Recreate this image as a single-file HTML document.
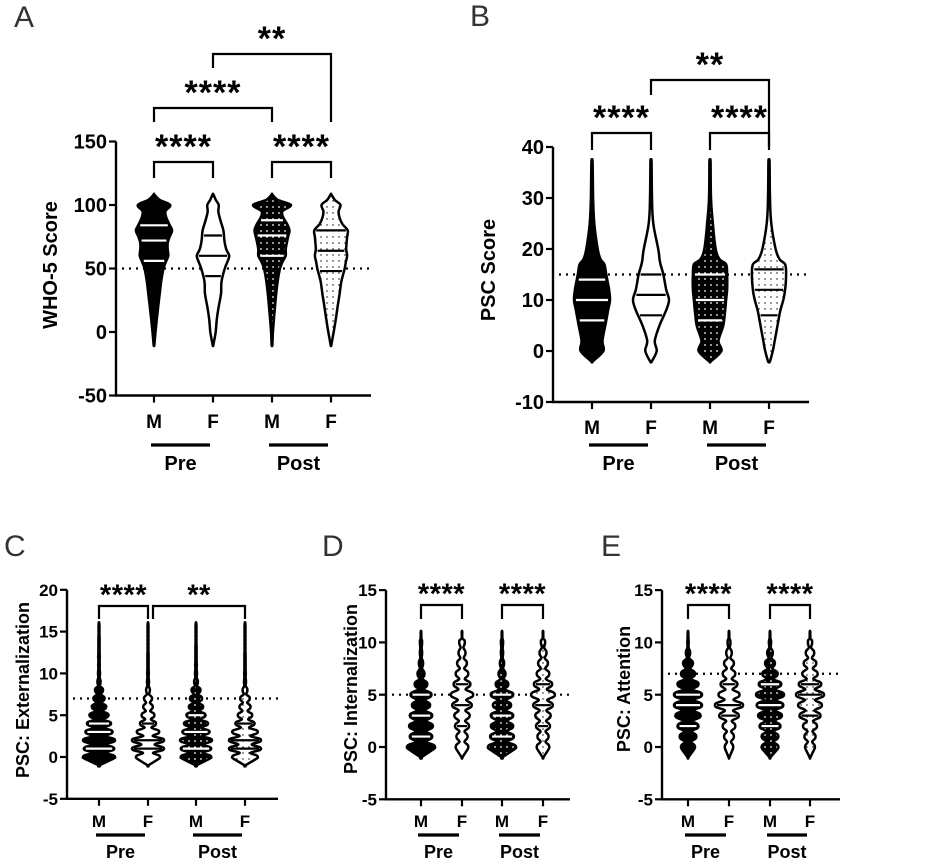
<!DOCTYPE html>
<html><head><meta charset="utf-8">
<style>
html,body{margin:0;padding:0;background:#fff;}
svg{display:block;font-family:"Liberation Sans",Arial,sans-serif;}
</style></head>
<body>
<svg id="fig" width="944" height="861" viewBox="0 0 944 861" xmlns="http://www.w3.org/2000/svg">
<defs>
<pattern id="pwdot" width="6" height="6" patternUnits="userSpaceOnUse"><rect width="6" height="6" fill="#000"/><circle cx="3" cy="3" r="0.9" fill="#fff"/></pattern>
<pattern id="pbdot" width="6" height="6" patternUnits="userSpaceOnUse"><rect width="6" height="6" fill="#fff"/><circle cx="3" cy="3" r="0.7" fill="#000"/></pattern>
</defs>
<g id="root"></g>
</svg>
<script>
// ---------- data ----------
const groupLabels = ["M","F","M","F"];
const phaseLabels = ["Pre","Post"];
// Panel A (WHO-5): sample values and relative widths per violin
const aValues = [-10,0,10,20,30,40,50,55,60,65,70,75,80,85,90,95,100,104,108];
const aWidths = [
 [0.02,0.08,0.15,0.22,0.3,0.38,0.5,0.62,0.75,0.72,0.72,0.82,0.95,0.8,0.65,0.6,0.85,0.3,0.03],
 [0.02,0.14,0.2,0.3,0.42,0.45,0.62,0.75,0.85,0.7,0.62,0.58,0.55,0.45,0.35,0.28,0.3,0.15,0.03],
 [0.02,0.05,0.1,0.16,0.22,0.3,0.42,0.55,0.72,0.72,0.78,0.85,0.92,0.8,0.6,0.55,1.0,0.3,0.03],
 [0.02,0.14,0.25,0.35,0.45,0.55,0.72,0.78,0.85,0.8,0.82,0.85,0.88,0.6,0.45,0.4,0.5,0.2,0.03]
];
const aQuartiles = [[56,72,84],[44,60,76],[60,76,88],[48,64,80]];
// Panel B (PSC total)
const bValues = [-2,0,2,5,8,10,12,15,17,18,20,25,30,37];
const bWidths = [
 [0.05,0.6,0.55,0.7,0.85,0.95,0.9,0.75,0.65,0.45,0.3,0.12,0.06,0.03],
 [0.05,0.3,0.2,0.45,0.8,0.95,0.8,0.65,0.5,0.45,0.38,0.12,0.05,0.03],
 [0.05,0.6,0.45,0.7,0.8,0.85,0.9,0.9,0.85,0.5,0.3,0.15,0.05,0.03],
 [0.05,0.2,0.3,0.45,0.6,0.75,0.85,0.9,0.85,0.55,0.35,0.12,0.05,0.03]
];
const bQuartiles = [[6,10,14],[7,11,15],[6,10,15],[7,12,16]];
// Panel C (Externalization) widths at integer scores 0..15
const cWidths = [
 [1,0.95,1,0.85,0.75,0.6,0.45,0.35,0.25,0.1,0.06,0.05,0.05,0.04,0.04,0.03],
 [0.75,1,1,0.7,0.5,0.4,0.3,0.25,0.12,0.06,0.05,0.04,0.04,0.03,0.03,0.03],
 [0.95,0.95,1,0.85,0.75,0.6,0.45,0.38,0.28,0.12,0.06,0.05,0.04,0.04,0.03,0.03],
 [0.8,1,1,0.8,0.6,0.45,0.35,0.3,0.15,0.06,0.05,0.04,0.04,0.03,0.03,0.03]
];
const cQuartiles = [[1,3,4],[1,2,4],[1,3,5],[1,2,4]];
// Panel D (Internalization) widths at integer scores 0..10
const dWidths = [
 [1,0.8,0.85,0.8,0.65,0.75,0.45,0.25,0.15,0.08,0.08],
 [0.45,0.4,0.5,0.55,0.7,0.8,0.6,0.45,0.35,0.25,0.2],
 [1,0.85,0.8,0.8,0.65,0.8,0.45,0.25,0.15,0.08,0.08],
 [0.45,0.4,0.5,0.55,0.7,0.85,0.65,0.45,0.35,0.25,0.15]
];
const dQuartiles = [[1,3,5],[2,4,6],[1,3,5],[2,4,6]];
// Panel E (Attention) widths at integer scores 0..10
const eWidths = [
 [0.5,0.6,0.75,0.9,1,1,0.75,0.5,0.35,0.15,0.05],
 [0.3,0.35,0.45,0.7,1,0.75,0.6,0.45,0.35,0.2,0.1],
 [0.6,0.6,0.75,0.85,0.95,1,0.8,0.55,0.35,0.2,0.08],
 [0.35,0.4,0.5,0.75,0.85,1,0.8,0.55,0.45,0.3,0.15]
];
const eQuartiles = [[2,4,5],[3,4,6],[2,4,6],[3,5,6]];
const aTicks = [-50,0,50,100,150];
const bTicks = [-10,0,10,20,30,40];
const cTicks = [-5,0,5,10,15,20];
const deTicks = [-5,0,5,10,15];

// ---------- drawing ----------
const NS = "http://www.w3.org/2000/svg";
const root = document.getElementById("root");
function mk(tag, attrs, parent){
  const e = document.createElementNS(NS, tag);
  for (const k in attrs) e.setAttribute(k, attrs[k]);
  (parent||root).appendChild(e);
  return e;
}
const fills = ["#000","#fff","url(#pwdot)","url(#pbdot)"];
const qcol = ["#fff","#000","#fff","#000"];

function smoothPath(pts){
  let d = "M"+pts[0][0].toFixed(1)+","+pts[0][1].toFixed(1);
  for (let i=0;i<pts.length-1;i++){
    const p0=pts[Math.max(0,i-1)],p1=pts[i],p2=pts[i+1],p3=pts[Math.min(pts.length-1,i+2)];
    const c1=[p1[0]+(p2[0]-p0[0])/6,p1[1]+(p2[1]-p0[1])/6];
    const c2=[p2[0]-(p3[0]-p1[0])/6,p2[1]-(p3[1]-p1[1])/6];
    d+="C"+c1[0].toFixed(1)+","+c1[1].toFixed(1)+" "+c2[0].toFixed(1)+","+c2[1].toFixed(1)+" "+p2[0].toFixed(1)+","+p2[1].toFixed(1);
  }
  return d;
}
function integerSamples(ws){
  const s=[[-1,0.02]];
  for (let k=0;k<ws.length;k++){
    if (k>0){ s.push([k-0.5, Math.min(ws[k-1],ws[k])*0.4+0.02]); }
    s.push([k-0.2, ws[k]*0.9]);
    s.push([k, ws[k]]);
    s.push([k+0.2, ws[k]*0.9]);
  }
  s.push([ws.length-1+0.4, 0.03]);
  s.push([ws.length, 0.02]);
  return s;
}

function panel(P){
  const g = mk("g",{});
  const Y = v => P.y0 - v*P.k;
  const L = mk("text",{x:P.letter[0],y:P.letter[1],"font-size":P.lfs,"fill":"#333"},g);
  L.textContent = P.lt;
  
  
  const yb = Y(P.ticks[0]), yt = Y(P.ticks[P.ticks.length-1]);
  const ax = mk("line",{x1:P.ax,y1:yt,x2:P.ax,y2:yb+1,stroke:"#000","stroke-width":2.4},g);
  
  
  const xa = mk("line",{x1:P.ax-1,y1:yb,x2:P.axEnd,y2:yb,stroke:"#000","stroke-width":2.4},g);
  
  
  P.ticks.forEach(t=>{
    mk("line",{x1:P.ax-7,y1:Y(t),x2:P.ax,y2:Y(t),stroke:"#000","stroke-width":2.2},g);
    const tx = mk("text",{x:P.ax-9,y:Y(t)+P.tfs*0.36,"font-size":P.tfs,"font-weight":"bold","text-anchor":"end"},g);
    tx.textContent = t;
    
    
  });
  const yl = mk("text",{x:0,y:0,"font-size":P.yfs,"font-weight":"bold","text-anchor":"middle",transform:"translate("+P.ytitle[0]+","+P.ytitle[1]+") rotate(-90)"},g);
  yl.textContent = P.ytxt;
  
  
  const ref = mk("line",{x1:P.ax+6,y1:Y(P.ref),x2:P.axEnd,y2:Y(P.ref),stroke:"#000","stroke-width":2.2,"stroke-dasharray":"2 5"},g);
  
  
  P.cats.forEach((cx,i)=>{
    const samples = P.samples(i);
    const right = samples.map(s=>[cx+s[1]*P.hw, Y(s[0])]);
    const left = samples.slice().reverse().map(s=>[cx-s[1]*P.hw, Y(s[0])]);
    const top = [cx, Y(samples[samples.length-1][0])-1];
    const bot = [cx, Y(samples[0][0])+1];
    const d = smoothPath([bot].concat(right,[top],left,[bot]))+"Z";
    const vp = mk("path",{d:d,fill:fills[i],stroke:"#000","stroke-width":2.5,"stroke-linejoin":"round"},g);
    
    
    P.quart[i].forEach(q=>{
      let w = 0;
      for (let j=0;j<samples.length-1;j++){const a=samples[j],b=samples[j+1]; if(q>=a[0]&&q<=b[0]){w=a[1]+(b[1]-a[1])*(q-a[0])/(b[0]-a[0]);break;}}
      const ql = mk("line",{x1:cx-w*P.hw+2,y1:Y(q),x2:cx+w*P.hw-2,y2:Y(q),stroke:qcol[i],"stroke-width":2.2},g);
      
      
    });
    mk("line",{x1:cx,y1:yb,x2:cx,y2:yb+7,stroke:"#000","stroke-width":2.2},g);
    const cl = mk("text",{x:cx,y:P.catY,"font-size":P.cfs,"font-weight":"bold","text-anchor":"middle"},g);
    cl.textContent = groupLabels[i];
    
    
  });
  [0,1].forEach(j=>{
    const x1=P.cats[2*j]-3, x2=P.cats[2*j+1]-3;
    const ul = mk("line",{x1:x1,y1:P.ulY,x2:x2,y2:P.ulY,stroke:"#000","stroke-width":3.2},g);
    
    
    const pl = mk("text",{x:(x1+x2)/2,y:P.phY,"font-size":P.pfs,"font-weight":"bold","text-anchor":"middle"},g);
    pl.textContent = phaseLabels[j];
    
    
  });
  P.br.forEach(b=>{
    const xA=P.cats[b[0]]+(b[5]||0), xB=P.cats[b[1]];
    const bp = mk("path",{d:"M"+xA+","+b[3]+"V"+b[2]+"H"+xB+"V"+b[4],fill:"none",stroke:"#000","stroke-width":2.2},g);
    
    
    const st = mk("text",{x:(xA+xB)/2,y:b[2]-P.sgap+P.sfs*0.5,"font-size":P.sfs,"font-weight":"bold","text-anchor":"middle","letter-spacing":P.sls},g);
    st.textContent = b[6];
    
    
  });
}

const bigBase = {tfs:20,yfs:20,cfs:19,pfs:20,sfs:34,sls:1,sgap:21,lfs:30,hw:19};
panel(Object.assign({},bigBase,{name:"panel-a-who5",lt:"A",letter:[14,27],y0:332,k:63.5/50,ticks:aTicks,ax:116,axEnd:371,
  cats:[154,213,272,331],ref:50,ytxt:"WHO-5 Score",ytitle:[57,265],catY:428,ulY:445,phY:470,
  samples:i=>aValues.map((v,j)=>[v,aWidths[i][j]]),quart:aQuartiles,
  br:[[0,1,162,178,178,0,"****"],[2,3,162,178,178,0,"****"],[0,2,108,122,122,0,"****"],[1,3,54,68,122,0,"**"]]}));
panel(Object.assign({},bigBase,{name:"panel-b-psc",lt:"B",letter:[470,26],y0:351,k:5.1,ticks:bTicks,ax:553,axEnd:809,
  cats:[592,651,710,769],ref:15,ytxt:"PSC Score",ytitle:[495,270],catY:434,ulY:445,phY:470,
  samples:i=>bValues.map((v,j)=>[v,bWidths[i][j]]),quart:bQuartiles,
  br:[[0,1,133,150,150,0,"****"],[2,3,133,150,150,0,"****"],[1,3,80,95,147,0,"**"]]}));
const smBase = {tfs:17,yfs:18,cfs:17,pfs:18,sfs:29,sls:0.5,sgap:16,lfs:30,catY:827,ulY:835,phY:858};
panel(Object.assign({},smBase,{name:"panel-c-externalization",lt:"C",letter:[4,556],y0:757,k:41.8/5,ticks:cTicks,ax:67,axEnd:278,hw:16,
  cats:[99,148,196,245],ref:7,ytxt:"PSC: Externalization",ytitle:[29,690],
  samples:i=>integerSamples(cWidths[i]),quart:cQuartiles,
  br:[[0,1,606,619,619,0,"****"],[1,3,606,619,619,5,"**"]]}));
panel(Object.assign({},smBase,{name:"panel-d-internalization",lt:"D",letter:[322,556],y0:747,k:52.3/5,ticks:deTicks,ax:386,axEnd:570,hw:14,
  cats:[421,462,502,543],ref:5,ytxt:"PSC: Internalization",ytitle:[357,689],
  samples:i=>integerSamples(dWidths[i]),quart:dQuartiles,
  br:[[0,1,605,619,619,0,"****"],[2,3,605,619,619,0,"****"]]}));
panel(Object.assign({},smBase,{name:"panel-e-attention",lt:"E",letter:[601,556],y0:747,k:52.3/5,ticks:deTicks,ax:662,axEnd:840,hw:14,
  cats:[688,729,770,810],ref:7,ytxt:"PSC: Attention",ytitle:[630,689],
  samples:i=>integerSamples(eWidths[i]),quart:eQuartiles,
  br:[[0,1,605,619,619,0,"****"],[2,3,605,619,619,0,"****"]]}));
</script>
</body></html>
